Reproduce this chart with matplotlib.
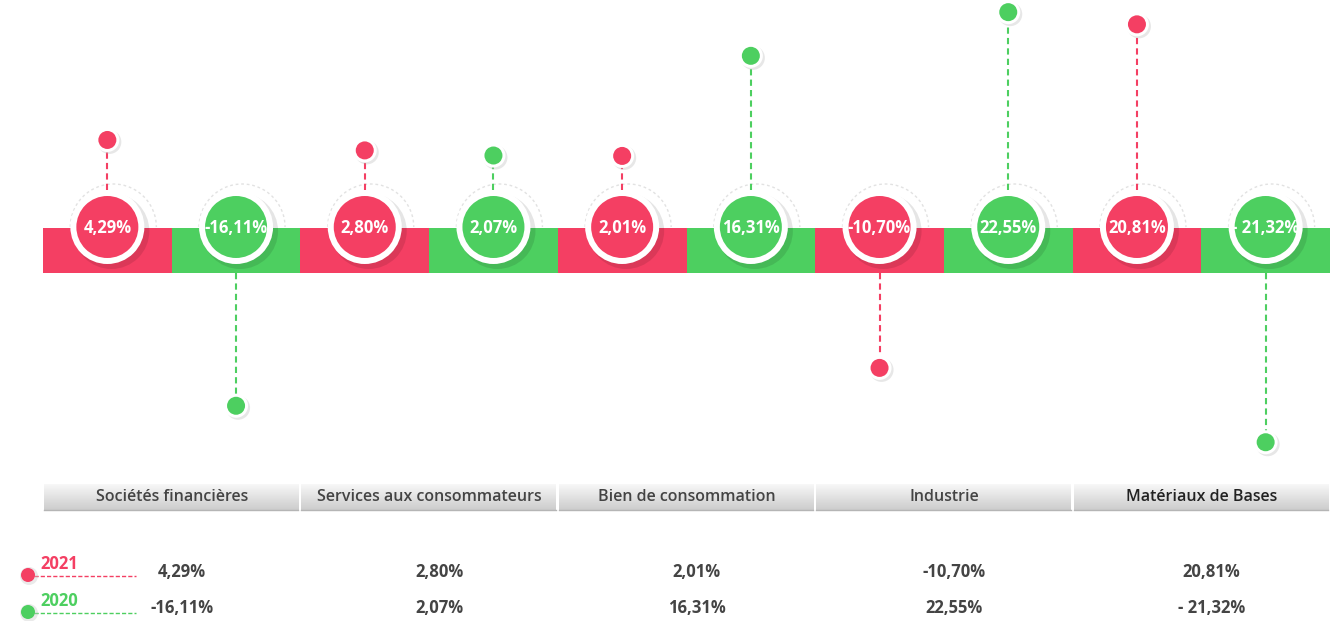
import numpy as np
import matplotlib
matplotlib.use("Agg")
import matplotlib.pyplot as plt
from matplotlib.patches import Circle, Rectangle, Arc

plt.rcParams['font.family'] = ['Open Sans', 'DejaVu Sans']

categories = ["Sociétés financières", "Services aux consommateurs",
              "Bien de consommation", "Industrie", "Matériaux de Bases"]
values_2021 = [4.29, 2.80, 2.01, -10.70, 20.81]
values_2020 = [-16.11, 2.07, 16.31, 22.55, -21.32]
labels_2021 = ["4,29%", "2,80%", "2,01%", "-10,70%", "20,81%"]
labels_2020 = ["-16,11%", "2,07%", "16,31%", "22,55%", "- 21,32%"]
years = ["2021", "2020"]

RED = "#F43F63"
GREEN = "#4DCF60"
TEXT = "#444444"

# layout in pixel units (axes spans the whole figure)
W, H = 1344, 621
band_left, band_right = 43, 1330
band_top, band_bottom = 228, 273
cat_w = (band_right - band_left) / len(categories)
circle_y = 227
circle_r = 37
stem_base = 20      # px of stem for a value of 0
px_per_unit = 7.0   # px of stem per percentage point

fig = plt.figure(figsize=(W / 100, H / 100), dpi=100)
ax = fig.add_axes([0, 0, 1, 1])
ax.set_xlim(0, W)
ax.set_ylim(H, 0)
ax.axis("off")


def dot(x, y, r, color, z=5):
    # small lollipop head with a soft shadow / white halo
    ax.add_patch(Circle((x + 2, y + 2), r + 3, color="#bbbbbb", alpha=0.35, lw=0, zorder=z))
    ax.add_patch(Circle((x, y), r + 3, color="white", lw=0, zorder=z + 0.1))
    ax.add_patch(Circle((x, y), r, color=color, lw=0, zorder=z + 0.2))


def lollipop(x, value, label, color):
    # stem goes up from the circle for positives, down from the band for negatives
    length = stem_base + px_per_unit * abs(value)
    if value >= 0:
        y0 = circle_y - circle_r
        y1 = y0 - length
    else:
        y0 = band_bottom
        y1 = y0 + length
    ax.plot([x, x], [y0, y1], color=color, lw=1.5, ls=(0, (3, 2)), zorder=3)
    dot(x, y1, 9, color)

    # big value circle on the band, faint halo arc on the upper right
    ax.add_patch(Arc((x + 6, circle_y), 2 * (circle_r + 6), 2 * (circle_r + 6),
                     theta1=180, theta2=360, edgecolor="#e2e2e2", lw=1.0, ls=(0, (2, 2)), zorder=1))
    ax.add_patch(Circle((x + 4, circle_y + 4), circle_r + 1, color="#000000", alpha=0.10, lw=0, zorder=4.5))
    ax.add_patch(Circle((x, circle_y), circle_r, color="white", lw=0, zorder=5))
    ax.add_patch(Circle((x, circle_y), circle_r - 6, color=color, lw=0, zorder=6))
    ax.text(x, circle_y + 1, label, color="white", fontsize=12, fontweight="bold",
            ha="center", va="center", zorder=7)


for i, cat in enumerate(categories):
    left = band_left + i * cat_w
    ax.add_patch(Rectangle((left, band_top), cat_w / 2, band_bottom - band_top, color=RED, lw=0, zorder=2))
    ax.add_patch(Rectangle((left + cat_w / 2, band_top), cat_w / 2, band_bottom - band_top, color=GREEN, lw=0, zorder=2))

    lollipop(left + cat_w / 4, values_2021[i], labels_2021[i], RED)
    lollipop(left + 3 * cat_w / 4, values_2020[i], labels_2020[i], GREEN)

    # grey gradient label strip
    grad = np.linspace(0.97, 0.80, 50).reshape(-1, 1)
    ax.imshow(grad, cmap="gray", vmin=0, vmax=1, aspect="auto",
              extent=(left + 1, left + cat_w - 2, 510, 484), zorder=2)
    ax.plot([left + 1, left + cat_w - 2], [510, 510], color="#b5b5b5", lw=1, zorder=2.5)
    ax.text(left + cat_w / 2, 497, cat, color="#222222" if i == 4 else TEXT,
            fontsize=11.5, fontweight="semibold", ha="center", va="center", zorder=3)

    # summary table at the bottom
    col_x = left + cat_w / 2 + 10
    ax.text(col_x, 572, labels_2021[i], color=TEXT, fontsize=12, fontweight="bold",
            ha="center", va="center")
    ax.text(col_x, 608, labels_2020[i], color=TEXT, fontsize=12, fontweight="bold",
            ha="center", va="center")

# legend
for year, color, y in [(years[0], RED, 575), (years[1], GREEN, 612)]:
    ax.plot([34, 136], [y + 1, y + 1], color=color, lw=1, ls=(0, (3, 1.5)), zorder=3)
    ax.add_patch(Circle((29, y + 1), 9, color="#cccccc", alpha=0.4, lw=0, zorder=3))
    ax.add_patch(Circle((28, y), 7, color=color, lw=0, zorder=4))
    ax.text(40, y - 11, year, color=color, fontsize=12, fontweight="bold", ha="left", va="center")

fig.savefig("out.png", dpi=100, facecolor="white")
